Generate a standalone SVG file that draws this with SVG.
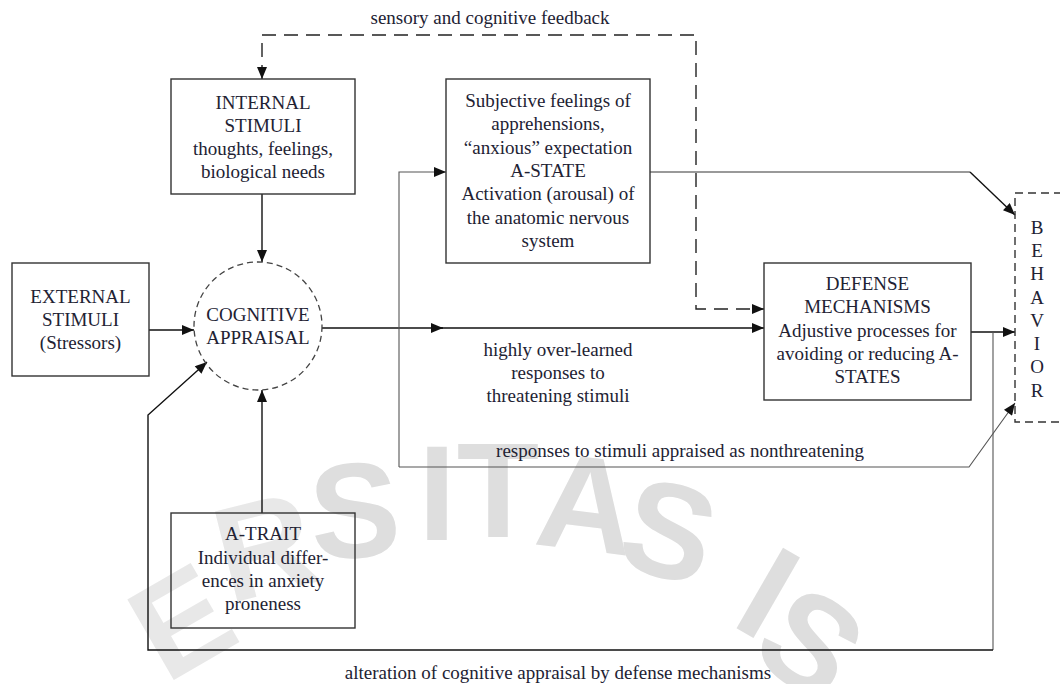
<svg xmlns="http://www.w3.org/2000/svg" width="1060" height="684" viewBox="0 0 1060 684">
<style>
  text { font-family: "Liberation Serif", "Times New Roman", serif; font-size: 19px; fill: #222233; }
  .c { text-anchor: middle; }
  .box { fill: none; stroke: #333; stroke-width: 1.4; }
  .wm { font-family: "Liberation Sans", Arial, sans-serif; font-size: 135px; font-weight: bold; fill: #dedede; text-anchor: middle; }
  .wm2 { fill: #e8e8e8; }
  .ln { fill: none; stroke: #111; stroke-width: 1.4; }
  .gl { fill: none; stroke: #999; stroke-width: 2; }
  .thin { fill: none; stroke: #555; stroke-width: 1.1; }
  .dash { fill: none; stroke: #222; stroke-width: 1.4; stroke-dasharray: 14 8; }
</style>
<defs>
  <marker id="ah" viewBox="0 0 12 10" refX="12" refY="5" markerWidth="13" markerHeight="10" markerUnits="userSpaceOnUse" orient="auto-start-reverse">
    <path d="M0,0 L12,5 L0,10 Z" fill="#111"/>
  </marker>
</defs>
<rect width="1060" height="684" fill="#fff"/>

<g id="watermark">
  <text class="wm wm2" transform="translate(205,662) rotate(-30)">E</text>
  <text class="wm wm2" transform="translate(276,592) rotate(-14)">R</text>
  <text class="wm" transform="translate(358,557) rotate(-4)">S</text>
  <text class="wm" transform="translate(437,540)">I</text>
  <text class="wm" transform="translate(498,537)">T</text>
  <text class="wm" transform="translate(581,550) rotate(7)">A</text>
  <text class="wm" transform="translate(657,576) rotate(15)">S</text>
  <text class="wm" transform="translate(745,633) rotate(30)">I</text>
  <text class="wm" transform="translate(784,681) rotate(35)">S</text>
</g>

<g id="connectors">
  <!-- sensory and cognitive feedback -->
  <path class="dash" d="M262,79 L262,35 L696,35 L696,309 L764,309" marker-start="url(#ah)" marker-end="url(#ah)"/>
  <!-- internal -> cognitive -->
  <path class="ln" d="M262,194 L262,262" marker-end="url(#ah)"/>
  <!-- external -> cognitive -->
  <path class="ln" d="M149,330 L194,330" marker-end="url(#ah)"/>
  <!-- a-trait -> cognitive -->
  <path class="ln" d="M262,513 L262,390" marker-end="url(#ah)"/>
  <!-- cognitive -> defense -->
  <path class="ln" d="M322,328 L443,328" marker-end="url(#ah)"/>
  <path class="ln" d="M440,328 L764,328" marker-end="url(#ah)"/>
  <!-- to A-STATE and nonthreatening -->
  <path class="thin" d="M399,467 L399,172 L446,172" marker-end="url(#ah)"/>
  <path class="thin" d="M399,467 L969,467 L1015,403" marker-end="url(#ah)"/>
  <!-- A-STATE -> behavior -->
  <path class="gl" d="M650,172 L970,172"/>
  <path class="ln" d="M970,172 L1015,215" marker-end="url(#ah)"/>
  <!-- defense -> behavior -->
  <path class="ln" d="M971,332 L1015,332" marker-end="url(#ah)"/>
  <!-- alteration loop -->
  <path class="thin" d="M993,332 L993,650"/>
  <path class="ln" d="M993,650 L148,650 L148,415 L207,362" marker-end="url(#ah)"/>
  <text class="c" x="490" y="24">sensory and cognitive feedback</text>
  <text class="c" x="558" y="356">highly over-learned</text>
  <text class="c" x="558" y="379">responses to</text>
  <text class="c" x="558" y="402">threatening stimuli</text>
  <text class="c" x="680" y="457">responses to stimuli appraised as nonthreatening</text>
  <text class="c" x="558" y="679">alteration of cognitive appraisal by defense mechanisms</text>
</g>

<g id="external">
  <rect class="box" x="12" y="263" width="137" height="113"/>
  <text class="c" x="80.5" y="303">EXTERNAL</text>
  <text class="c" x="80.5" y="326">STIMULI</text>
  <text class="c" x="80.5" y="349">(Stressors)</text>
</g>

<g id="internal">
  <rect class="box" x="171" y="79" width="184" height="115"/>
  <text class="c" x="263" y="109">INTERNAL</text>
  <text class="c" x="263" y="132">STIMULI</text>
  <text class="c" x="263" y="155">thoughts, feelings,</text>
  <text class="c" x="263" y="178">biological needs</text>
</g>

<g id="cognitive">
  <circle cx="258" cy="326" r="64" fill="none" stroke="#444" stroke-width="1.3" stroke-dasharray="6 4"/>
  <text class="c" x="258" y="321">COGNITIVE</text>
  <text class="c" x="258" y="344">APPRAISAL</text>
</g>

<g id="atrait">
  <rect class="box" x="171" y="513" width="184" height="115"/>
  <text class="c" x="263" y="540">A-TRAIT</text>
  <text class="c" x="263" y="564">Individual differ-</text>
  <text class="c" x="263" y="587">ences in anxiety</text>
  <text class="c" x="263" y="610">proneness</text>
</g>

<g id="astate">
  <rect class="box" x="446" y="79" width="204" height="184"/>
  <text class="c" x="548" y="107">Subjective feelings of</text>
  <text class="c" x="548" y="130">apprehensions,</text>
  <text class="c" x="548" y="154">“anxious” expectation</text>
  <text class="c" x="548" y="177">A-STATE</text>
  <text class="c" x="548" y="200">Activation (arousal) of</text>
  <text class="c" x="548" y="224">the anatomic nervous</text>
  <text class="c" x="548" y="247">system</text>
</g>

<g id="defense">
  <rect class="box" x="764" y="263" width="207" height="137"/>
  <text class="c" x="867.5" y="290">DEFENSE</text>
  <text class="c" x="867.5" y="313">MECHANISMS</text>
  <text class="c" x="867.5" y="337">Adjustive processes for</text>
  <text class="c" x="867.5" y="360">avoiding or reducing A-</text>
  <text class="c" x="867.5" y="383">STATES</text>
</g>

<g id="behavior">
  <rect x="1015" y="193" width="70" height="229" fill="none" stroke="#333" stroke-width="1.4" stroke-dasharray="8 5"/>
  <text class="c" x="1037" y="234">B</text>
  <text class="c" x="1037" y="257">E</text>
  <text class="c" x="1037" y="280">H</text>
  <text class="c" x="1037" y="304">A</text>
  <text class="c" x="1037" y="327">V</text>
  <text class="c" x="1037" y="350">I</text>
  <text class="c" x="1037" y="373">O</text>
  <text class="c" x="1037" y="397">R</text>
</g>
</svg>
